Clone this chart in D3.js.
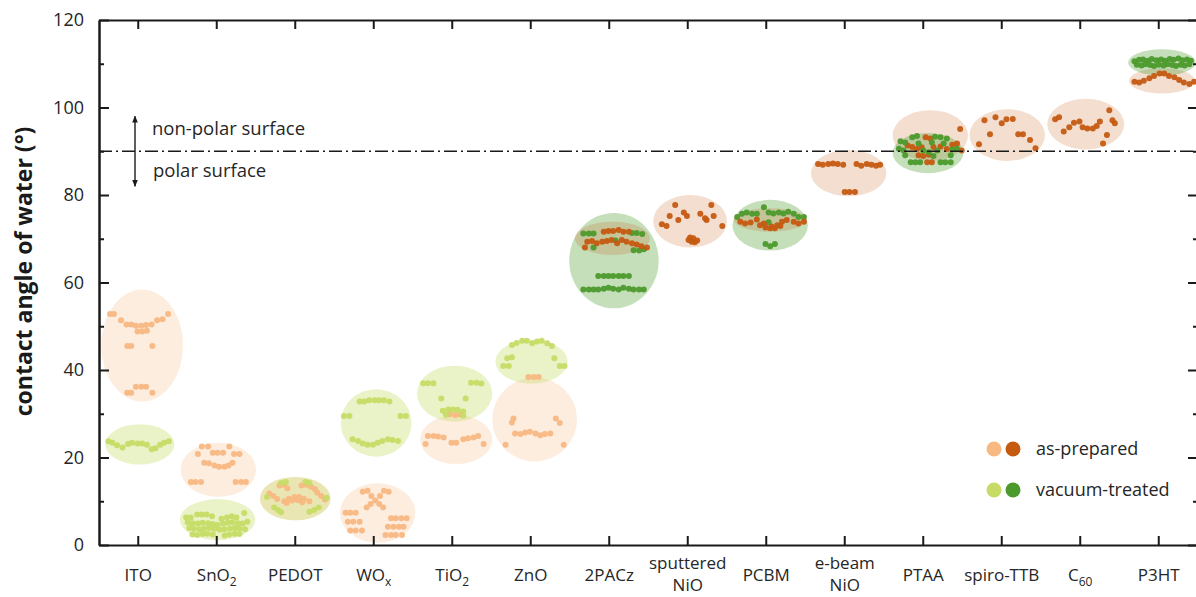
<!DOCTYPE html>
<html><head><meta charset="utf-8">
<script src="https://cdn.jsdelivr.net/npm/d3@7"></script>
<style>
html,body{margin:0;padding:0;background:#fff;}
svg{display:block;font-family:"Open Sans",sans-serif;}
</style></head><body>
<svg id="chart" width="1196" height="597"></svg>
<script>
// ---------- data ----------
const categories = ["ITO","SnO2","PEDOT","WOx","TiO2","ZnO","2PACz","sputtered NiO","PCBM","e-beam NiO","PTAA","spiro-TTB","C60","P3HT"];
// each label: lines, each line [main text, subscript]
const tickLabels = [
  [["ITO",""]],[["SnO","2"]],[["PEDOT",""]],[["WO","x"]],[["TiO","2"]],[["ZnO",""]],
  [["2PACz",""]],[["sputtered",""],["NiO",""]],[["PCBM",""]],[["e-beam",""],["NiO",""]],
  [["PTAA",""]],[["spiro-TTB",""]],[["C","60"]],[["P3HT",""]]
];
const yMajorTicks = [0,20,40,60,80,100,120];
const yMinorTicks = [10,30,50,70,90,110];
const polarLimit = 90;
const arrowRange = [82,98];
const legendLabels = ["as-prepared","vacuum-treated"];
const yTitle = "contact angle of water (°)";

// points: [offset within category (% of category width), contact angle (°)]
const ITO_prep = [[-36,52.8],[-31,52.8],[-22,51.4],[-15,50.4],[-9,50.4],[-3,50.1],[4,50.1],[10,50.3],[17,50.4],[-1,48.8],[5,48.8],[11,49.0],[24,51.4],[31,51.6],[38,52.8],[-14,45.5],[-9,45.5],[18,45.5],[-3,36.2],[4,36.2],[10,36.2],[-14,34.8],[-9,34.8],[18,34.8]];
const ITO_vac = [[-38,23.7],[-33,23.4],[-27,22.8],[-20,22.3],[-13,23.1],[-8,23.4],[-1,23.2],[5,23.2],[11,22.9],[17,21.9],[22,22.1],[28,22.9],[33,23.4],[39,23.7]];
const SnO2_prep = [[-19,22.5],[-11,22.5],[16,22.5],[-24,20.8],[-5,21.1],[1,21.1],[8,21.1],[22,20.8],[29,20.8],[-16,18.8],[-10,18.7],[-3,18.2],[3,17.9],[10,17.9],[15,18.2],[20,18.8],[-33,14.4],[-27,14.4],[-20,14.4],[24,14.4],[31,14.4],[37,14.4]];
const SnO2_vac = [[-39,6.3],[-33,6.3],[-25,7.0],[-19,7.0],[-13,7.0],[-6,6.6],[6,6.0],[13,6.3],[19,6.6],[25,6.3],[35,7.3],
  [-37,5.2],[-31,5.0],[-24,4.9],[-18,5.1],[-11,5.0],[-5,4.8],[1,4.6],[8,4.9],[14,5.1],[20,5.2],[27,5.0],[33,4.9],[39,5.3],
  [-35,3.9],[-29,3.7],[-22,3.6],[-16,3.8],[-9,3.9],[-3,3.7],[4,3.5],[10,3.6],[17,3.8],[23,3.9],[29,3.8],[36,3.6],
  [-31,2.4],[-25,2.3],[-18,2.5],[-12,2.6],[-5,2.4],[10,2.2],[16,2.4],[23,2.6],[29,2.5]];
const PEDOT_prep = [[-20,13.6],[-14,13.8],[-10,13.0],[-33,11.8],[-28,11.2],[-23,10.5],[-14,10.0],[-8,10.6],[-1,11.0],[5,11.0],[11,10.6],[18,10.0],[-11,9.6],[-4,10.2],[3,10.3],[9,9.8],[8,13.6],[14,13.8],[20,13.3],[25,12.8],[28,12.0],[33,11.2],[38,10.4]];
const PEDOT_vac = [[-18,14.2],[-12,14.4],[-36,11.0],[-27,8.6],[-22,8.0],[-18,7.5],[13,14.4],[18,14.2],[18,7.6],[24,8.0],[30,8.6],[40,10.8]];
const WOx_prep = [[-14,12.2],[-8,12.4],[13,12.4],[19,12.2],[-3,11.2],[8,11.2],[2,10.2],[-4,9.4],[7,9.4],[-9,8.6],[12,8.6],
  [-36,7.4],[-30,7.4],[-23,7.4],[-33,5.3],[-26,5.3],[-18,5.3],[-30,3.3],[-23,3.3],[-15,3.3],
  [22,6.1],[28,6.1],[35,6.1],[42,6.1],[18,4.2],[25,4.2],[32,4.2],[38,4.2],[15,2.3],[22,2.3],[28,2.3],[36,2.3]];
const WOx_vac = [[-18,32.8],[-12,32.8],[-6,33.1],[1,33.1],[7,33.1],[13,33.1],[20,32.8],[-38,29.5],[-31,29.5],[34,29.5],[41,29.5],[-27,24.2],[-20,23.8],[-14,23.2],[-8,22.9],[-1,22.9],[5,23.4],[11,23.8],[18,24.2],[24,24.0],[31,23.8]];
const TiO2_prep = [[-31,24.9],[-24,24.9],[-18,24.8],[-11,24.6],[-1,23.4],[5,23.4],[14,24.2],[20,24.4],[27,24.6],[33,24.9],[-34,23.1],[40,23.1],[-3,29.9],[4,29.7],[10,29.9]];
const TiO2_vac = [[-37,37.0],[-31,37.0],[-24,37.0],[24,37.1],[31,37.1],[37,36.9],[-14,33.5],[17,33.5],[-12,30.7],[-5,31.0],[1,31.0],[7,30.9],[14,30.5],[-8,29.8],[14,29.6]];
const ZnO_prep = [[-3,38.4],[4,38.4],[10,38.4],[-22,28.9],[-24,28.0],[32,28.9],[37,27.9],[-20,25.5],[-13,25.4],[-7,25.7],[-1,25.9],[6,25.5],[12,25.1],[18,25.4],[25,25.5],[-32,22.9],[42,22.9]];
const ZnO_vac = [[-24,45.7],[-18,46.2],[-11,46.7],[-5,46.7],[2,46.1],[8,46.5],[14,46.7],[21,46.1],[27,45.5],[-30,42.7],[-24,42.9],[-35,40.9],[-28,40.9],[30,42.7],[37,40.9],[43,40.9]];
const PACz_prep = [[-7,71.6],[-1,71.8],[5,71.8],[12,72.0],[18,71.6],[25,71.6],[-28,69.3],[-22,69.5],[-16,69.0],[-9,69.3],[-3,69.5],[3,69.7],[10,69.0],[16,69.7],[22,69.3],[29,69.0],[35,68.7],[41,68.3],[48,68.0],[-31,68.0]];
const PACz_vac = [[-33,71.2],[-26,71.2],[-20,71.2],[29,71.3],[35,71.3],[42,71.1],[-20,68.0],[8,69.6],[31,67.4],[38,67.3],[44,67.6],
  [-14,61.5],[-7,61.5],[-1,61.5],[5,61.5],[12,61.5],[18,61.5],[25,61.5],
  [-33,58.4],[-26,58.4],[-20,58.4],[-14,58.4],[-7,58.6],[-1,58.8],[5,58.6],[12,58.4],[18,58.8],[25,58.6],[31,58.4],[38,58.4],[44,58.4]];
const NiOsp_prep = [[-16,77.7],[30,77.7],[-23,75.2],[-5,76.0],[-1,75.2],[16,75.7],[22,74.7],[33,75.2],[-33,73.3],[-27,72.9],[-12,74.3],[24,74.3],[44,72.9],[1,69.7],[7,70.1],[12,69.6],[5,69.3],[3,70.3],[9,69.2]];
const PCBM_prep = [[-33,73.9],[-27,73.5],[-20,73.7],[-12,74.4],[-3,73.5],[7,72.8],[14,73.1],[20,73.9],[26,74.3],[35,73.9],[41,73.5],[48,73.9],[-8,73.1],[-1,72.6],[5,72.4],[11,72.4],[18,72.9]];
const PCBM_vac = [[-37,75.0],[-31,75.7],[-25,76.0],[-18,75.7],[-12,75.7],[3,76.0],[9,75.8],[16,76.0],[22,75.8],[28,76.2],[35,75.7],[41,75.0],[48,75.0],[-3,77.2],[3,73.8],[-1,68.8],[5,68.3],[11,68.8]];
const NiOeb_prep = [[-34,87.1],[-28,86.9],[-21,87.1],[-15,87.2],[-9,87.1],[-2,86.9],[15,87.1],[21,86.7],[28,87.1],[34,86.9],[40,86.7],[45,86.9],[0,80.7],[6,80.7],[13,80.7]];
const PTAA_prep = [[47,95.1],[3,93.2],[9,92.9],[-20,91.3],[-14,91.0],[37,91.5],[43,91.8],[-8,90.5],[-2,90.9],[13,91.0],[22,91.1],[30,90.5],[49,90.2],[-6,89.1],[0,88.9],[7,89.2],[5,87.5],[11,87.5]];
const PTAA_vac = [[-14,93.2],[-8,93.5],[15,93.3],[22,93.2],[30,92.9],[-29,92.3],[-23,92.0],[-6,91.8],[11,92.0],[26,91.8],[-31,90.6],[-25,90.2],[0,90.2],[7,89.8],[18,90.2],[37,90.4],[43,90.6],[-23,89.1],[13,88.9],[35,89.1],[-16,87.5],[-10,87.5],[-4,87.5],[22,87.5],[28,87.5],[35,87.5]];
const spiro_prep = [[-22,97.1],[-8,97.8],[0,96.4],[6,97.3],[14,97.4],[-15,93.9],[21,93.9],[27,93.9],[36,92.6],[-29,91.6],[43,90.7]];
const C60_prep = [[-32,97.3],[-27,97.8],[-21,94.5],[-14,95.5],[-8,96.5],[-1,96.8],[3,95.5],[9,95.2],[16,95.2],[21,95.8],[25,96.8],[37,99.4],[41,97.1],[44,96.4],[34,93.7],[29,91.8]];
const P3HT_prep = [[-31,105.9],[-25,105.7],[-19,106.1],[-12,106.7],[-6,107.2],[1,107.8],[7,107.8],[13,107.2],[20,106.9],[26,106.3],[32,105.7],[39,105.4],[45,105.9]];
const P3HT_vac = [[-31,110.6],[-25,110.9],[-20,111.0],[-14,110.7],[-9,111.1],[-3,110.8],[3,111.0],[8,110.7],[14,111.1],[19,110.9],[25,111.2],[30,110.8],[36,111.0],[41,110.7],
  [-28,109.8],[-22,109.6],[-17,109.9],[-11,109.7],[-6,109.5],[0,109.8],[6,109.6],[11,109.9],[17,109.7],[22,109.5],[28,109.8],[33,109.6],[39,109.9]];

// envelopes: [centre offset (% of category width), centre angle (°), half-width (%), half-height (°)]
const ITO_prep_env = [5,45.6,52,12.8], ITO_vac_env = [2,23.0,44,4.6];
const SnO2_prep_env = [2,17.2,48,6.2], SnO2_vac_env = [1,5.8,48,4.7];
const PEDOT_prep_env = [0,10.6,45,4.95], PEDOT_vac_env = [0,10.6,45,4.95];
const WOx_prep_env = [5,7.3,48,6.8], WOx_vac_env = [3,27.9,45,7.7];
const TiO2_prep_env = [5,24.1,46,5.6], TiO2_vac_env = [3,34.6,48,6.4];
const ZnO_prep_env = [5,28.7,54,9.6], ZnO_vac_env = [1,41.9,46,5.0];
const PACz_prep_env = [4,70.1,48,3.8], PACz_vac_env = [6,65.0,57,10.9];
const NiOsp_prep_env = [3,74.0,47,6.0];
const PCBM_prep_env = [5,74.3,46,2.7], PCBM_vac_env = [5,73.1,48,5.8];
const NiOeb_prep_env = [5,85.0,48,5.3];
const PTAA_prep_env = [9,93.6,48,5.8], PTAA_vac_env = [6,89.6,45,4.6];
const spiro_prep_env = [7,93.7,48,5.9];
const C60_prep_env = [7,96.2,49,5.8];
const P3HT_prep_env = [4,106.1,42,2.9], P3HT_vac_env = [4,110.3,43,3.0];

// table built from the arrays above
const groups = [
  ["ITO","asPrepared",ITO_prep,ITO_prep_env],["ITO","vacuum",ITO_vac,ITO_vac_env],
  ["SnO2","asPrepared",SnO2_prep,SnO2_prep_env],["SnO2","vacuum",SnO2_vac,SnO2_vac_env],
  ["PEDOT","asPrepared",PEDOT_prep,PEDOT_prep_env],["PEDOT","vacuum",PEDOT_vac,PEDOT_vac_env],
  ["WOx","asPrepared",WOx_prep,WOx_prep_env],["WOx","vacuum",WOx_vac,WOx_vac_env],
  ["TiO2","asPrepared",TiO2_prep,TiO2_prep_env],["TiO2","vacuum",TiO2_vac,TiO2_vac_env],
  ["ZnO","asPrepared",ZnO_prep,ZnO_prep_env],["ZnO","vacuum",ZnO_vac,ZnO_vac_env],
  ["2PACz","vacuum",PACz_vac,PACz_vac_env],["2PACz","asPrepared",PACz_prep,PACz_prep_env],
  ["sputtered NiO","asPrepared",NiOsp_prep,NiOsp_prep_env],
  ["PCBM","vacuum",PCBM_vac,PCBM_vac_env],["PCBM","asPrepared",PCBM_prep,PCBM_prep_env],
  ["e-beam NiO","asPrepared",NiOeb_prep,NiOeb_prep_env],
  ["PTAA","asPrepared",PTAA_prep,PTAA_prep_env],["PTAA","vacuum",PTAA_vac,PTAA_vac_env],
  ["spiro-TTB","asPrepared",spiro_prep,spiro_prep_env],
  ["C60","asPrepared",C60_prep,C60_prep_env],
  ["P3HT","asPrepared",P3HT_prep,P3HT_prep_env],["P3HT","vacuum",P3HT_vac,P3HT_vac_env]
].map(([cat,series,points,env])=>({cat,series,points,env}));

// ---------- styles / layout ----------
const plot = {left:99, right:1198, top:20, bottom:545};
const palette = {asPrepared:{light:"#F8B882", dark:"#C55A11"}, vacuum:{light:"#C6DC66", dark:"#4C9A2C"}};
const envAlpha = {asPrepared:{light:0.26, dark:0.2}, vacuum:{light:0.36, dark:0.32}};
const lightCount = 6; // first six materials drawn in light tones
const shadeOf = cat => categories.indexOf(cat) < lightCount ? "light" : "dark";
const inkColor = "#1a1a1a", textColor = "#262626";

const svg = d3.select("#chart");
const x = d3.scaleBand().domain(categories).range([plot.left, plot.right]);
const y = d3.scaleLinear().domain([0,120]).range([plot.bottom, plot.top]);
const jitter = d3.scaleLinear().domain([-50,50]).range([-x.bandwidth()/2, x.bandwidth()/2]);
const px = (cat, off) => x(cat) + x.bandwidth()/2 + jitter(off);

// envelopes
const gEnv = svg.append("g");
gEnv.selectAll("ellipse").data(groups).join("ellipse")
  .attr("cx", d => px(d.cat, d.env[0]))
  .attr("cy", d => y(d.env[1]))
  .attr("rx", d => jitter(d.env[2]) - jitter(0))
  .attr("ry", d => y(d.env[1]) - y(d.env[1] + d.env[3]))
  .attr("fill", d => palette[d.series][shadeOf(d.cat)])
  .attr("fill-opacity", d => envAlpha[d.series][shadeOf(d.cat)]);

// dots
const flat = [];
groups.forEach(g => g.points.forEach(p => flat.push({cat:g.cat, series:g.series, off:p[0], v:p[1]})));
svg.append("g").selectAll("circle").data(flat).join("circle")
  .attr("cx", d => px(d.cat, d.off))
  .attr("cy", d => y(d.v))
  .attr("r", 3)
  .attr("fill", d => palette[d.series][shadeOf(d.cat)])
  .attr("fill-opacity", 0.95);

// polar / non-polar line
svg.append("line")
  .attr("x1", plot.left).attr("x2", plot.right)
  .attr("y1", y(polarLimit)).attr("y2", y(polarLimit))
  .attr("stroke", inkColor).attr("stroke-width", 1.4)
  .attr("stroke-dasharray", "13,4,2,4");

// axes
function styleAxis(g){
  g.selectAll(".domain").attr("stroke", inkColor).attr("stroke-width", 2);
  g.selectAll(".tick line").attr("stroke", inkColor).attr("stroke-width", 2);
  g.selectAll(".tick text").attr("fill", textColor).style("font-family","'Open Sans',sans-serif");
}
svg.append("g").attr("transform",`translate(0,${plot.bottom})`)
  .call(d3.axisBottom(x).tickSize(-9).tickSizeOuter(0).tickFormat("")).call(styleAxis);
svg.append("g").attr("transform",`translate(0,${plot.top})`)
  .call(d3.axisTop(x).tickSize(-9).tickSizeOuter(0).tickFormat("")).call(styleAxis);
const gl = svg.append("g").attr("transform",`translate(${plot.left},0)`)
  .call(d3.axisLeft(y).tickValues(yMajorTicks).tickSize(-10).tickSizeOuter(0).tickPadding(15)).call(styleAxis);
gl.selectAll(".tick text").attr("font-size", 18);
svg.append("g").attr("transform",`translate(${plot.left},0)`)
  .call(d3.axisLeft(y).tickValues(yMinorTicks).tickSize(-5).tickSizeOuter(0).tickFormat("")).call(styleAxis);
svg.append("g").attr("transform",`translate(${plot.right},0)`)
  .call(d3.axisRight(y).tickValues(yMajorTicks).tickSize(-10).tickSizeOuter(0).tickFormat("")).call(styleAxis);
svg.append("g").attr("transform",`translate(${plot.right},0)`)
  .call(d3.axisRight(y).tickValues(yMinorTicks).tickSize(-5).tickSizeOuter(0).tickFormat("")).call(styleAxis);

// category labels
const labG = svg.append("g").attr("fill", textColor).attr("font-size", 17).attr("text-anchor","middle");
categories.forEach((cat,i) => {
  const lines = tickLabels[i];
  const base = lines.length === 1 ? [plot.bottom + 36] : [plot.bottom + 24, plot.bottom + 46];
  lines.forEach((ln, j) => {
    const t = labG.append("text").attr("x", x(cat) + x.bandwidth()/2).attr("y", base[j]);
    t.append("tspan").text(ln[0]);
    if (ln[1]) t.append("tspan").attr("font-size", 12).attr("dy", 5).text(ln[1]);
  });
});

// y title
svg.append("text")
  .attr("transform", `translate(32,${(plot.top+plot.bottom)/2 - 11}) rotate(-90)`)
  .attr("text-anchor","middle").attr("font-weight","bold").attr("font-size", 23)
  .attr("fill", inkColor).text(yTitle);

// polar arrow annotation
const defs = svg.append("defs");
defs.append("marker").attr("id","ah").attr("viewBox","0 0 10 10").attr("refX",9).attr("refY",5)
  .attr("markerWidth",7).attr("markerHeight",7).attr("markerUnits","userSpaceOnUse").attr("orient","auto-start-reverse")
  .append("path").attr("d","M0,1 L10,5 L0,9 Z").attr("fill", inkColor);
const ax = plot.left + 36;
svg.append("line").attr("x1", ax).attr("x2", ax)
  .attr("y1", y(arrowRange[0])).attr("y2", y(arrowRange[1]))
  .attr("stroke", inkColor).attr("stroke-width", 1.4)
  .attr("marker-start","url(#ah)").attr("marker-end","url(#ah)");
svg.append("text").attr("x", ax + 17).attr("y", y(polarLimit) - 16)
  .attr("font-size", 18.5).attr("fill", textColor).text("non-polar surface");
svg.append("text").attr("x", ax + 18).attr("y", y(polarLimit) + 26)
  .attr("font-size", 18.5).attr("fill", textColor).text("polar surface");

// legend
const legendSeries = ["asPrepared","vacuum"];
const lg = svg.append("g").attr("transform","translate(994,449)");
legendSeries.forEach((s,i) => {
  const row = lg.append("g").attr("transform",`translate(0,${i*41})`);
  row.append("circle").attr("cx",0).attr("cy",0).attr("r",7.5).attr("fill", palette[s].light);
  row.append("circle").attr("cx",19).attr("cy",0).attr("r",7.5).attr("fill", palette[s].dark);
  row.append("text").attr("x",42).attr("y",0).attr("dy","0.35em")
    .attr("font-size",18).attr("fill",textColor).text(legendLabels[i]);
});
</script>
</body></html>
